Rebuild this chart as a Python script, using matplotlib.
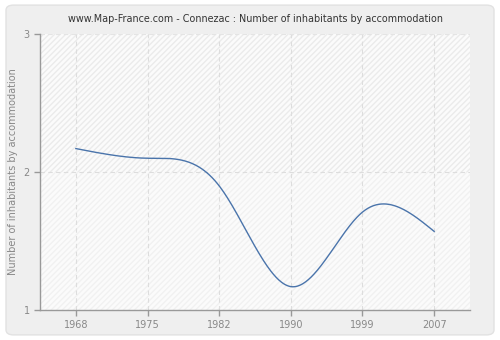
import numpy as np
import matplotlib
matplotlib.use("Agg")
import matplotlib.pyplot as plt
from matplotlib.patches import FancyBboxPatch, Rectangle

years = ["1968", "1975", "1982", "1990", "1999", "2007"]
values = [2.17, 2.10, 1.90, 1.17, 1.71, 1.57]
y_ticks = [1, 2, 3]


def natural_spline(x, y, n=400):
    x = np.asarray(x, float)
    y = np.asarray(y, float)
    k = len(x)
    h = np.diff(x)
    A = np.zeros((k, k))
    b = np.zeros(k)
    A[0, 0] = A[-1, -1] = 1
    for i in range(1, k - 1):
        A[i, i - 1] = h[i - 1]
        A[i, i] = 2 * (h[i - 1] + h[i])
        A[i, i + 1] = h[i]
        b[i] = 6 * ((y[i + 1] - y[i]) / h[i] - (y[i] - y[i - 1]) / h[i - 1])
    m = np.linalg.solve(A, b)
    xs = np.linspace(x[0], x[-1], n)
    ys = np.empty_like(xs)
    for j, xv in enumerate(xs):
        i = min(np.searchsorted(x, xv, side="right") - 1, k - 2)
        t0 = x[i + 1] - xv
        t1 = xv - x[i]
        ys[j] = (m[i] * t0 ** 3 + m[i + 1] * t1 ** 3) / (6 * h[i]) \
            + (y[i] / h[i] - m[i] * h[i] / 6) * t0 \
            + (y[i + 1] / h[i] - m[i + 1] * h[i] / 6) * t1
    return xs, ys


fig = plt.figure(figsize=(5, 3.4), dpi=100)
fig.patch.set_facecolor("white")
fig.patches.append(FancyBboxPatch((0.012, 0.015), 0.976, 0.97,
                                  boxstyle="round,pad=0,rounding_size=0.015",
                                  transform=fig.transFigure,
                                  facecolor="#efefef", edgecolor="#e2e2e2",
                                  linewidth=1, zorder=-10))

ax = fig.add_axes([0.08, 0.088, 0.86, 0.812])
ax.set_facecolor("#fbfbfb")
# faint diagonal hatching, a touch stronger in the upper half
ax.add_patch(Rectangle((0, 0.5), 1, 0.5, transform=ax.transAxes, facecolor="none",
                       edgecolor="#ebebeb", hatch="//////", linewidth=0, zorder=0))
ax.add_patch(Rectangle((0, 0), 1, 0.5, transform=ax.transAxes, facecolor="none",
                       edgecolor="#f1f1f1", hatch="//////", linewidth=0, zorder=0))

idx = np.arange(len(years))
xs, ys = natural_spline(idx, values)
ax.plot(xs, ys, color="#4a74ab", linewidth=1.0, zorder=3)

ax.set_xlim(-0.5, 5.5)
ax.set_ylim(1, 3)
ax.set_xticks(idx)
ax.set_xticklabels(years)
ax.set_yticks(y_ticks)

for xv in idx:
    ax.axvline(xv, color="#dddddd", linestyle=(0, (4, 3)), linewidth=0.8, zorder=1)
ax.axhline(2, color="#dddddd", linestyle=(0, (4, 3)), linewidth=0.8, zorder=1)
ax.axhline(3, color="#e4e4e4", linestyle=(0, (4, 3)), linewidth=0.8, zorder=1)

for s in ["top", "right"]:
    ax.spines[s].set_visible(False)
for s in ["left", "bottom"]:
    ax.spines[s].set_color("#999999")
    ax.spines[s].set_linewidth(1)

ax.tick_params(axis="both", colors="#999999", labelcolor="#888888",
               labelsize=7, length=4, width=1)
ax.set_ylabel("Number of inhabitants by accommodation", fontsize=7, color="#888888")
ax.set_title("www.Map-France.com - Connezac : Number of inhabitants by accommodation",
             fontsize=6.9, color="#333333", pad=9)

fig.savefig("out.png", dpi=100, facecolor=fig.get_facecolor())
